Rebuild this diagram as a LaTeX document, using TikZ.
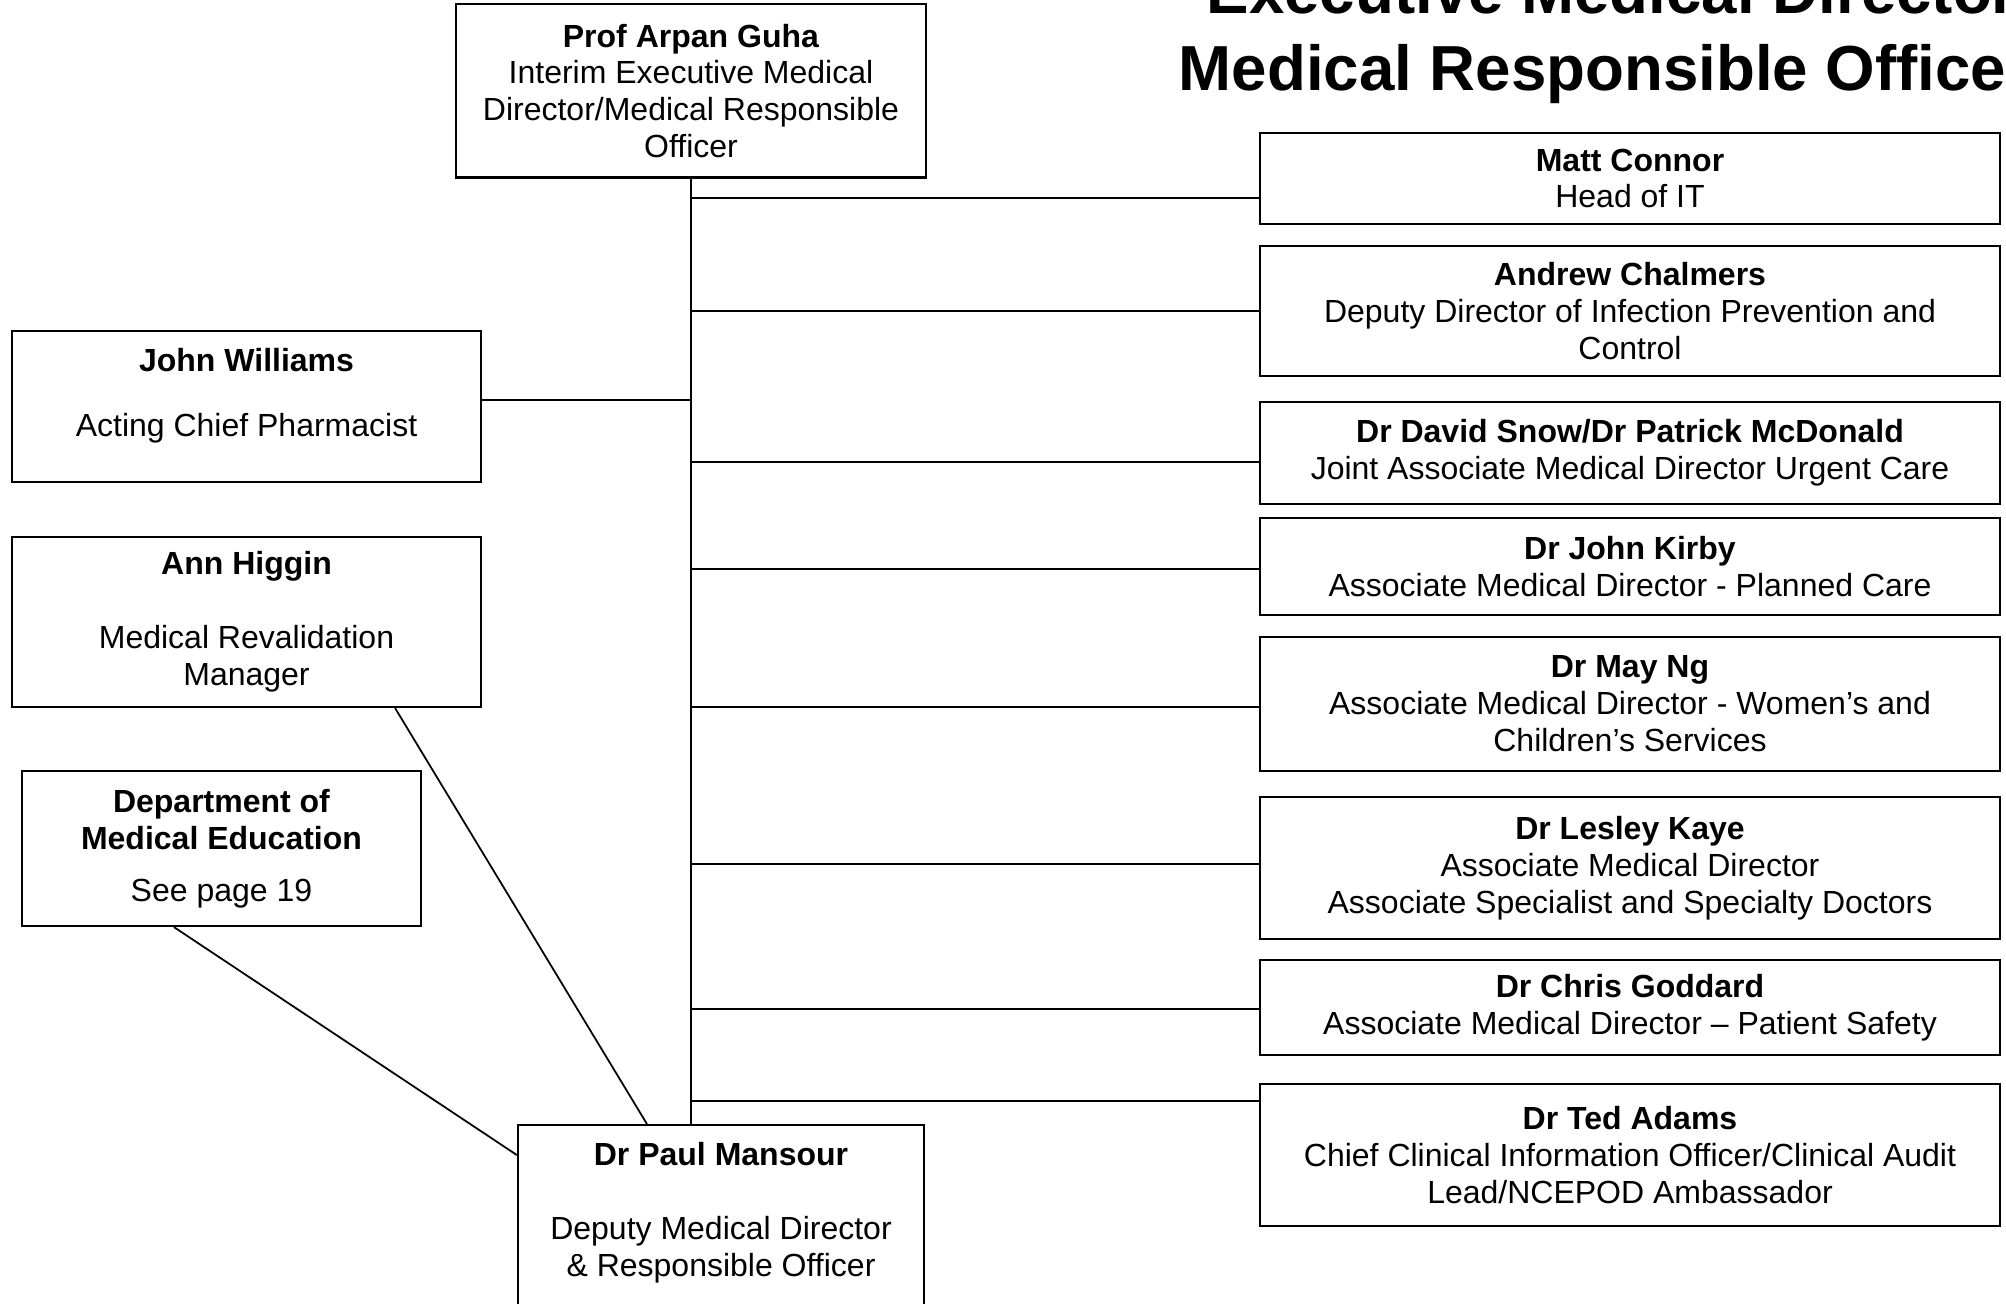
\documentclass[tikz,border=0pt]{standalone}
\usepackage{fontspec}
\setmainfont{Liberation Sans}
\usetikzlibrary{positioning}
\newcommand{\orgfont}{\fontsize{9.1}{10.5}\selectfont}
\newcommand{\titlefont}{\fontsize{18.1}{22}\selectfont\bfseries}
\begin{document}
\begin{tikzpicture}[x=0.01cm, y=-0.01cm,
  box/.style={draw, line width=0.6pt, align=center, inner sep=0pt, font=\orgfont},
  rbox/.style={box, minimum width=7.4cm},
  lbox/.style={box, minimum width=4.69cm},
  inbox/.style={font=\orgfont, align=center, inner sep=0pt},
  link/.style={line width=0.5pt}]
  \useasboundingbox (0,0) rectangle (2006,1304);
  \clip (0,0) rectangle (2006,1304);
  % Title (runs off the page)
  \node[anchor=base west, inner sep=0pt, font=\titlefont] (t1) at (1206,14) {Executive Medical Director};
  \node[anchor=base west, inner sep=0pt, font=\titlefont] (t2) at (1178,91) {Medical Responsible Officer};
  % Top box
  \node[box, minimum width=4.7cm, minimum height=1.73cm] (ag) at (691,91)
    {\textbf{Prof Arpan Guha}\\Interim Executive Medical\\Director/Medical Responsible\\Officer};
  % Right column
  \node[rbox, minimum height=0.91cm] (mc) at (1630,178.5) {\textbf{Matt Connor}\\Head of IT};
  \node[rbox, minimum height=1.30cm] (ac) at (1630,311)
    {\textbf{Andrew Chalmers}\\Deputy Director of Infection Prevention and\\Control};
  \node[rbox, minimum height=1.02cm] (ds) at (1630,453)
    {\textbf{Dr David Snow/Dr Patrick McDonald}\\Joint Associate Medical Director Urgent Care};
  \node[rbox, minimum height=0.97cm] (jk) at (1630,566.5)
    {\textbf{Dr John Kirby}\\Associate Medical Director - Planned Care};
  \node[rbox, minimum height=1.34cm] (mn) at (1630,704)
    {\textbf{Dr May Ng}\\Associate Medical Director - Women’s and\\Children’s Services};
  \node[rbox, minimum height=1.42cm] (lk) at (1630,868)
    {\textbf{Dr Lesley Kaye}\\Associate Medical Director\\Associate Specialist and Specialty Doctors};
  \node[rbox, minimum height=0.95cm] (cg) at (1630,1007.5)
    {\textbf{Dr Chris Goddard}\\Associate Medical Director – Patient Safety};
  \node[rbox, minimum height=1.42cm] (ta) at (1630,1155)
    {\textbf{Dr Ted Adams}\\Chief Clinical Information Officer/Clinical Audit\\Lead/NCEPOD Ambassador};
  % Left column
  \node[lbox, minimum height=1.51cm] (jw) at (246.5,406.5) {};
  \node[inbox, below=0.18cm of jw.north] (jwtext)
    {\textbf{John Williams}\\[0.28cm]Acting Chief Pharmacist};
  \node[lbox, minimum height=1.70cm] (ah) at (246.5,622)
    {\textbf{Ann Higgin}\\[0.37cm]Medical Revalidation\\Manager};
  \node[box, minimum width=3.99cm, minimum height=1.55cm] (dme) at (221.5,848.5)
    {\textbf{Department of}\\\textbf{Medical Education}\\[0.15cm]See page 19};
  % Bottom box (cut by the page edge)
  \node[box, minimum width=4.06cm, minimum height=2.5cm, anchor=north] (pm) at (721,1124) {};
  \node[inbox, below=0.18cm of pm.north] (pmtext)
    {\textbf{Dr Paul Mansour}\\[0.37cm]Deputy Medical Director\\\& Responsible Officer};
  % Trunk
  \draw[link] (ag.south) -- (ag.south |- pm.north);
  \foreach \name/\y in {mc/198, ac/311, ds/462, jk/569, mn/707, lk/864, cg/1009, ta/1101} {
    \coordinate (tap) at (0,\y);
    \draw[link] (ag.south |- tap) -- (\name.west |- tap);
  }
  % Left links
  \coordinate (jwtap) at ([yshift=0.065cm]jw.east);
  \draw[link] (jwtap) -- (ag.south |- jwtap);
  \draw[link] ([xshift=1.485cm]ah.south) -- ([xshift=-0.74cm]pm.north);
  \draw[link] ([xshift=-0.475cm]dme.south) -- ([yshift=-0.31cm]pm.north west);
\end{tikzpicture}
\end{document}
